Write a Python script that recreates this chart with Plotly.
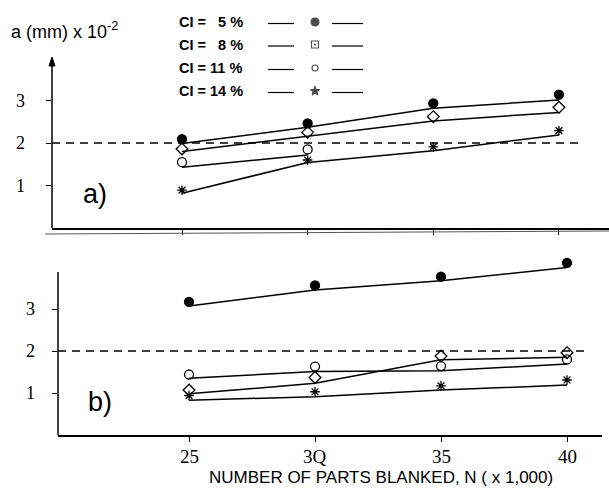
import plotly.graph_objects as go

W, H = 609, 495

# ---------------- data ----------------
n_parts = [25, 30, 35, 40]

# panel a)
a_ci5 = [2.09, 2.46, 2.93, 3.14]
a_ci5_fit = [1.99, 2.37, 2.82, 3.01]
a_ci8 = [1.86, 2.25, 2.62, 2.84]
a_ci8_fit = [1.80, 2.16, 2.52, 2.72]
a_ci11_n = [25, 30]
a_ci11 = [1.55, 1.85]
a_ci11_fit = [1.43, 1.72]
a_ci14 = [0.89, 1.60, 1.91, 2.29]
a_ci14_fit = [0.82, 1.54, 1.82, 2.19]

# panel b)
b_ci5 = [3.17, 3.56, 3.77, 4.10]
b_ci5_fit = [3.07, 3.45, 3.67, 3.99]
b_ci8 = [1.07, 1.37, 1.88, 1.96]
b_ci8_fit = [0.98, 1.23, 1.79, 1.85]
b_ci11 = [1.44, 1.63, 1.64, 1.80]
b_ci11_fit = [1.35, 1.51, 1.53, 1.69]
b_ci14 = [0.94, 1.03, 1.17, 1.31]
b_ci14_fit = [0.83, 0.91, 1.07, 1.19]

threshold = 2
y_ticks = [1, 2, 3]
x_ticks = [25, 30, 35, 40]
x_ticklabels = ["25", "3Q", "35", "40"]
legend_labels = ["CI =\u00a0\u00a0 5 %", "CI =\u00a0\u00a0 8 %", "CI = 11 %", "CI = 14 %"]
legend_symbols = ["circle", "square-open-dot", "circle-open", "star"]
legend_sizes = [8, 7, 6, 7]


def px(x):
    return x / W


def py(y):
    return 1 - y / H


SERIF = "Liberation Serif"
SANS = "Liberation Sans"

fig = go.Figure()

series_a = [
    (n_parts, a_ci5, a_ci5_fit, "circle", 9),
    (n_parts, a_ci8, a_ci8_fit, "diamond-open", 9),
    (a_ci11_n, a_ci11, a_ci11_fit, "circle-open", 9),
    (n_parts, a_ci14, a_ci14_fit, "asterisk-open", 8),
]
series_b = [
    (n_parts, b_ci5, b_ci5_fit, "circle", 9),
    (n_parts, b_ci8, b_ci8_fit, "diamond-open", 9),
    (n_parts, b_ci11, b_ci11_fit, "circle-open", 9),
    (n_parts, b_ci14, b_ci14_fit, "asterisk-open", 8),
]

for (xa, ya), series in ((("x", "y"), series_a), (("x2", "y2"), series_b)):
    for xs, ys, fit, sym, sz in series:
        fig.add_trace(go.Scatter(x=xs, y=fit, mode="lines", xaxis=xa, yaxis=ya,
                                 line=dict(color="black", width=1.5),
                                 showlegend=False, hoverinfo="skip"))
        fig.add_trace(go.Scatter(x=xs, y=ys, mode="markers", xaxis=xa, yaxis=ya,
                                 marker=dict(symbol=sym, size=sz, color="black",
                                             line=dict(color="black", width=1.3)),
                                 cliponaxis=False, showlegend=False))

# legend markers on a full-page pixel axis pair
leg_rows = [22, 44.5, 68, 91]
fig.add_trace(go.Scatter(x=[315] * 4, y=leg_rows, mode="markers",
                         xaxis="x3", yaxis="y3",
                         marker=dict(symbol=legend_symbols, size=legend_sizes, color="black",
                                     line=dict(color="black", width=1.1)),
                         cliponaxis=False, showlegend=False, hoverinfo="skip"))

# axes geometry (pixels)
top_x0, top_x1 = 52, 609
top_y0, top_ytop = 228, 60
top_unit = 42.5
bot_x0, bot_x1 = 58, 602
bot_y0, bot_ytop = 435, 256.5
bot_unit = 42.0
top_xr = [25 - (182 - top_x0) / 25.13, 25 + (top_x1 - 182) / 25.13]
bot_xr = [25 - (189 - bot_x0) / 25.2, 25 + (bot_x1 - 189) / 25.2]
top_yr = [0, (top_y0 - top_ytop) / top_unit]
bot_yr = [0, (bot_y0 - bot_ytop) / bot_unit]

common_x = dict(showgrid=False, zeroline=False, showline=True, linecolor="black",
                linewidth=1.5, ticks="outside", ticklen=5, tickwidth=1.2,
                tickcolor="black", tickvals=x_ticks, showticklabels=False)
common_y = dict(showgrid=False, zeroline=False, showline=False,
                ticks="outside", ticklen=5, tickwidth=1.2, tickcolor="black",
                tickvals=y_ticks, showticklabels=False)

fig.update_layout(
    width=W, height=H,
    margin=dict(l=0, r=0, t=0, b=0),
    paper_bgcolor="white", plot_bgcolor="rgba(0,0,0,0)",
    xaxis=dict(common_x, domain=[px(top_x0), px(top_x1)], range=top_xr, anchor="y"),
    yaxis=dict(common_y, domain=[py(top_y0), py(top_ytop)], range=top_yr, anchor="x"),
    xaxis2=dict(common_x, domain=[px(bot_x0), px(bot_x1)], range=bot_xr, anchor="y2"),
    yaxis2=dict(common_y, domain=[py(bot_y0), py(bot_ytop)], range=bot_yr, anchor="x2"),
    xaxis3=dict(domain=[0, 1], range=[0, W], visible=False, anchor="y3"),
    yaxis3=dict(domain=[0, 1], range=[H, 0], visible=False, anchor="x3"),
)

shapes = []
# y axis lines
shapes.append(dict(type="line", xref="paper", yref="paper",
                   x0=px(top_x0), x1=px(top_x0), y0=py(top_y0), y1=py(top_ytop + 4),
                   line=dict(color="black", width=1.5)))
# arrow head at top of y axis a)
shapes.append(dict(type="path", xref="paper", yref="paper",
                   path="M {:.5f} {:.5f} L {:.5f} {:.5f} L {:.5f} {:.5f} Z".format(
                       px(top_x0 - 3), py(top_ytop + 6), px(top_x0), py(top_ytop - 3),
                       px(top_x0 + 3), py(top_ytop + 6)),
                   fillcolor="black", line=dict(color="black", width=1)))
shapes.append(dict(type="line", xref="paper", yref="paper",
                   x0=px(bot_x0), x1=px(bot_x0), y0=py(bot_y0), y1=py(272),
                   line=dict(color="black", width=1.5)))
# threshold dashed lines
shapes.append(dict(type="line", xref="paper", yref="y", x0=px(top_x0), x1=px(578),
                   y0=threshold, y1=threshold,
                   line=dict(color="black", width=1.4, dash="8px,6px")))
shapes.append(dict(type="line", xref="paper", yref="y2", x0=px(bot_x0), x1=px(584),
                   y0=threshold, y1=threshold,
                   line=dict(color="black", width=1.4, dash="8px,6px")))
# scan border line under panel a
shapes.append(dict(type="line", xref="paper", yref="paper", x0=px(45), x1=px(609),
                   y0=py(234), y1=py(231), line=dict(color="#555", width=1)))
# legend line segments
for yy in leg_rows:
    shapes.append(dict(type="line", xref="paper", yref="paper", x0=px(268), x1=px(294),
                       y0=py(yy + 1.5), y1=py(yy + 1.5), line=dict(color="black", width=1.2)))
    shapes.append(dict(type="line", xref="paper", yref="paper", x0=px(332), x1=px(363),
                       y0=py(yy + 1.5), y1=py(yy + 1.5), line=dict(color="black", width=1.2)))
fig.update_layout(shapes=shapes)

ann = []
# y tick labels
for t in y_ticks:
    ann.append(dict(text=str(t), x=px(27), y=t, xref="paper", yref="y",
                    xanchor="right", yanchor="middle", showarrow=False,
                    font=dict(family=SERIF, size=18, color="black")))
    ann.append(dict(text=str(t), x=px(37), y=t, xref="paper", yref="y2",
                    xanchor="right", yanchor="middle", showarrow=False,
                    font=dict(family=SERIF, size=18, color="black")))
# x tick labels (bottom panel)
for t, lab in zip(x_ticks, x_ticklabels):
    ann.append(dict(text=lab, x=t, y=py(456), xref="x2", yref="paper",
                    xanchor="center", yanchor="middle", showarrow=False,
                    font=dict(family=SERIF, size=19, color="black")))
for lab, yy in zip(legend_labels, leg_rows):
    ann.append(dict(text="<b>" + lab + "</b>", x=px(177), y=py(yy), xref="paper", yref="paper",
                    xanchor="left", yanchor="middle", showarrow=False,
                    font=dict(family=SANS, size=14.5, color="black")))
ann.append(dict(text="a (mm) x 10<sup>-2</sup>", x=px(9), y=py(31), xref="paper", yref="paper",
                xanchor="left", yanchor="middle", showarrow=False,
                font=dict(family=SANS, size=18, color="black")))
ann.append(dict(text="a)", x=px(95), y=py(194), xref="paper", yref="paper",
                xanchor="center", yanchor="middle", showarrow=False,
                font=dict(family=SANS, size=27, color="black")))
ann.append(dict(text="b)", x=px(100), y=py(402), xref="paper", yref="paper",
                xanchor="center", yanchor="middle", showarrow=False,
                font=dict(family=SANS, size=27, color="black")))
ann.append(dict(text="NUMBER OF PARTS BLANKED, N ( x 1,000)", x=px(381), y=py(477),
                xref="paper", yref="paper", xanchor="center", yanchor="middle",
                showarrow=False, font=dict(family=SANS, size=17, color="black")))
fig.update_layout(annotations=ann)

fig.write_html("out.html", config={"displayModeBar": False},
               post_script="document.body.style.margin='0px';document.body.style.overflow='hidden';")
